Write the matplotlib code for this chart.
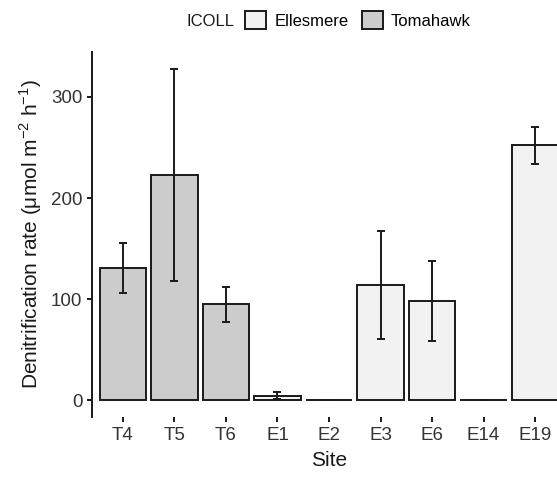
import numpy as np
import matplotlib.pyplot as plt
from matplotlib.patches import Patch

plt.rcParams['font.family'] = ['Liberation Sans', 'DejaVu Sans']
plt.rcParams['mathtext.fontset'] = 'custom'
plt.rcParams['mathtext.rm'] = 'Liberation Sans'

sites = ['T4', 'T5', 'T6', 'E1', 'E2', 'E3', 'E6', 'E14', 'E19']
icoll = ['Tomahawk', 'Tomahawk', 'Tomahawk', 'Ellesmere', 'Ellesmere',
         'Ellesmere', 'Ellesmere', 'Ellesmere', 'Ellesmere']
rate = [131, 223, 95, 4.5, 0.6, 114, 98, 0.6, 252]
err = [25, 104.5, 17.5, 3.5, 0, 53.5, 39.5, 0, 18]

fills = {'Ellesmere': '#f2f2f2', 'Tomahawk': '#cccccc'}
lw = 1.4

fig = plt.figure(figsize=(5.57, 4.79), dpi=100)
ax = fig.add_axes([92 / 557, 62 / 479, 474 / 557, 365 / 479])

x = np.arange(len(sites))
ax.bar(x, rate, width=0.9, color=[fills[g] for g in icoll],
       edgecolor='#1a1a1a', linewidth=lw, zorder=2)
ax.errorbar(x, rate, yerr=err, fmt='none', ecolor='#1a1a1a',
            elinewidth=lw, capsize=2.6, capthick=lw, zorder=3)

ax.set_xlim(-0.6, len(sites) - 0.4)
ax.set_ylim(-16.4, 344.4)
ax.set_xticks(x)
ax.set_xticklabels(sites)
ax.set_yticks([0, 100, 200, 300])

for s in ['top', 'right', 'bottom']:
    ax.spines[s].set_visible(False)
ax.spines['left'].set_linewidth(lw)
ax.spines['left'].set_color('#1a1a1a')
ax.tick_params(axis='both', labelsize=13.5, colors='#1a1a1a', labelcolor='#333333',
               length=3.5, width=lw, pad=3.5)

ax.set_xlabel('Site', fontsize=15, color='#1a1a1a', labelpad=5)
ax.set_ylabel(r'Denitrification rate ($\mathregular{\mu}$mol m$^{-2}$ h$^{-1}$)',
              fontsize=15, color='#1a1a1a', labelpad=5)

handles = [Patch(facecolor=fills['Ellesmere'], edgecolor='#1a1a1a', linewidth=lw),
           Patch(facecolor=fills['Tomahawk'], edgecolor='#1a1a1a', linewidth=lw)]
leg = fig.legend(handles, ['Ellesmere', 'Tomahawk'], loc='center',
                 bbox_to_anchor=(358 / 557, 1 - 20 / 479), ncol=2, frameon=False,
                 fontsize=12, handlelength=1.25, handleheight=1.3,
                 handletextpad=0.5, columnspacing=0.8)
fig.text(211 / 557, 1 - 21.5 / 479, 'ICOLL', fontsize=12, ha='center', va='center',
         color='#1a1a1a')

fig.savefig('out.png', dpi=100)
